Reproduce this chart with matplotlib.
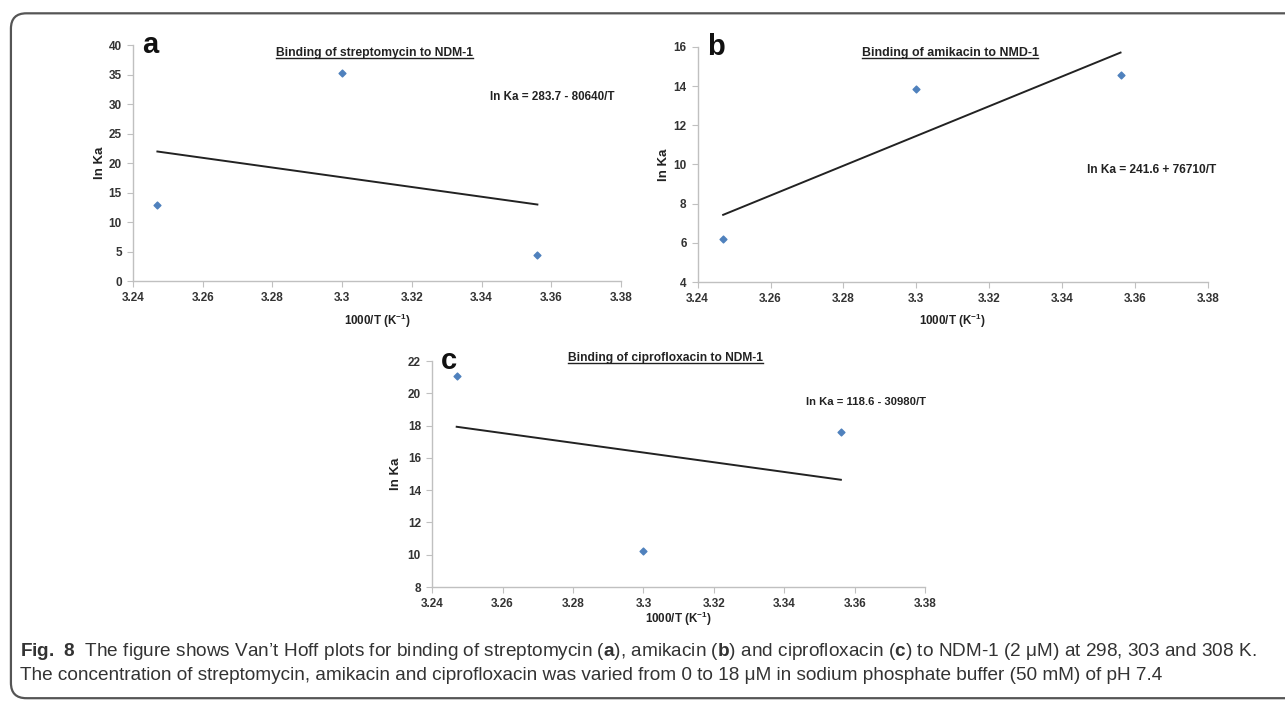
"""Van't Hoff plots for binding of three antibiotics to NDM-1."""

import numpy as np
import matplotlib.pyplot as plt
from matplotlib.patches import FancyBboxPatch

# x values: 1000/T at 308, 303 and 298 K
inv_temp = [3.247, 3.300, 3.356]

strep_lnka = [12.9, 35.2, 4.4]
amik_lnka = [6.2, 13.85, 14.55]
cipro_lnka = [21.05, 10.25, 17.6]

titles = ['Binding of streptomycin to NDM-1',
          'Binding of amikacin to NMD-1',
          'Binding of ciprofloxacin to NDM-1']
equations = ['ln Ka = 283.7 - 80640/T',
             'ln Ka = 241.6 + 76710/T',
             'ln Ka = 118.6 - 30980/T']
panel_tags = ['a', 'b', 'c']
y_limits = [(0, 40), (4, 16), (8, 22)]
y_steps = [5, 2, 2]
x_ticks = [3.24, 3.26, 3.28, 3.30, 3.32, 3.34, 3.36, 3.38]

plt.rcParams['font.family'] = ['Liberation Sans', 'DejaVu Sans']
plt.rcParams['mathtext.fontset'] = 'custom'
plt.rcParams['mathtext.rm'] = 'Liberation Sans'
plt.rcParams['mathtext.bf'] = 'Liberation Sans:bold'

W, H = 1285, 701
fig = plt.figure(figsize=(W / 100, H / 100), dpi=100)

# axes rectangles in figure fraction
rects = [(0.1035, 0.5991, 0.3798, 0.3367),
         (0.5429, 0.5977, 0.3972, 0.3353),
         (0.3362, 0.1626, 0.3840, 0.3224)]
# (centre x px, centre y px, width px)
title_pos = [(374, 53, 196), (950, 53, 175), (665, 358, 193)]
eq_pos = [(615, 97, 124), (1216, 170, 130), (926, 402, 120)]
ylab_x = [100, 664, 396]
xlab_y = [321, 321, 619]

fit_list = []  # (text, wanted width px)

for i, lnka in enumerate([strep_lnka, amik_lnka, cipro_lnka]):
    ax = fig.add_axes(rects[i])
    ax.scatter(inv_temp, lnka, marker='D', s=12, color='#4F81BD', zorder=3)
    slope, icept = np.polyfit(inv_temp, lnka, 1)
    xs = np.array([inv_temp[0], inv_temp[-1]])
    ax.plot(xs, icept + slope * xs, color='#222222', lw=1.4, zorder=2)

    ax.set_xlim(3.24, 3.38)
    ax.set_ylim(*y_limits[i])
    ax.set_xticks(x_ticks)
    ax.set_xticklabels([f'{t:g}' for t in x_ticks])
    ax.set_yticks(np.arange(y_limits[i][0], y_limits[i][1] + 0.1, y_steps[i]))
    for side in ['top', 'right']:
        ax.spines[side].set_visible(False)
    for side in ['left', 'bottom']:
        ax.spines[side].set_color('#c0c0c0')
        ax.spines[side].set_linewidth(1.0)
    ax.tick_params(direction='out', length=4, width=0.8, color='#c0c0c0',
                   labelsize=8.5, labelcolor='#333333', pad=4)
    for lab in ax.get_xticklabels() + ax.get_yticklabels():
        lab.set_fontweight('bold')

    ax.text(0.018, 1.0, panel_tags[i], transform=ax.transAxes, fontsize=21,
            fontweight='bold', va='center', ha='left', color='#111111')

    tx, ty, tw = title_pos[i]
    t = fig.text(tx / W, 1 - ty / H, titles[i], fontsize=10, fontweight='bold',
                 ha='center', va='center', color='#222222')
    fit_list.append((t, tw))

    ex, ey, ew = eq_pos[i]
    t = fig.text(ex / W, 1 - ey / H, equations[i], fontsize=10, fontweight='bold',
                 ha='right', va='center', color='#222222')
    fit_list.append((t, ew))

    fig.text(ylab_x[i] / W, rects[i][1] + rects[i][3] / 2, 'ln Ka', rotation=90,
             fontsize=9.5, fontweight='bold', ha='center', va='center',
             color='#222222')
    t = fig.text(rects[i][0] + rects[i][2] / 2, 1 - xlab_y[i] / H,
                 r'1000/T (K$^{\mathbf{-1}}$)', fontsize=10, fontweight='bold',
                 ha='center', va='center', color='#222222')
    fit_list.append((t, 66))

caption1 = (r"$\mathbf{Fig.\ 8}$  The figure shows Van’t Hoff plots for binding of "
            r"streptomycin ($\mathbf{a}$), amikacin ($\mathbf{b}$) and ciprofloxacin "
            r"($\mathbf{c}$) to NDM-1 (2 μM) at 298, 303 and 308 K.")
caption2 = ("The concentration of streptomycin, amikacin and ciprofloxacin was varied "
            "from 0 to 18 μM in sodium phosphate buffer (50 mM) of pH 7.4")
cap1 = fig.text(20 / W, 1 - 651 / H, caption1, fontsize=12, color='#333333', va='center')
cap2 = fig.text(20 / W, 1 - 676 / H, caption2, fontsize=12, color='#333333', va='center')

# shrink texts to the widths measured on the reference
fig.canvas.draw()
renderer = fig.canvas.get_renderer()
for t, w in fit_list:
    cur = t.get_window_extent(renderer).width
    t.set_fontsize(t.get_fontsize() * w / cur)
cur = cap1.get_window_extent(renderer).width
scale = 1234 / cur
cap1.set_fontsize(cap1.get_fontsize() * scale)
cap2.set_fontsize(cap2.get_fontsize() * scale)

# underline the titles
fig.canvas.draw()
for t in fig.texts:
    if t.get_text() in titles:
        bb = t.get_window_extent(renderer).transformed(fig.transFigure.inverted())
        fig.add_artist(plt.Line2D([bb.x0, bb.x1], [bb.y0 + 0.001, bb.y0 + 0.001],
                                  transform=fig.transFigure, color='#222222', lw=1))

# rounded frame, open on the right
frame = FancyBboxPatch((0.0085, 0.004), 1.1, 0.977,
                       boxstyle='round,pad=0,rounding_size=0.012',
                       transform=fig.transFigure, fill=False,
                       edgecolor='#555555', lw=1.6, mutation_aspect=1.83)
fig.add_artist(frame)

fig.savefig('out.png', dpi=100)
